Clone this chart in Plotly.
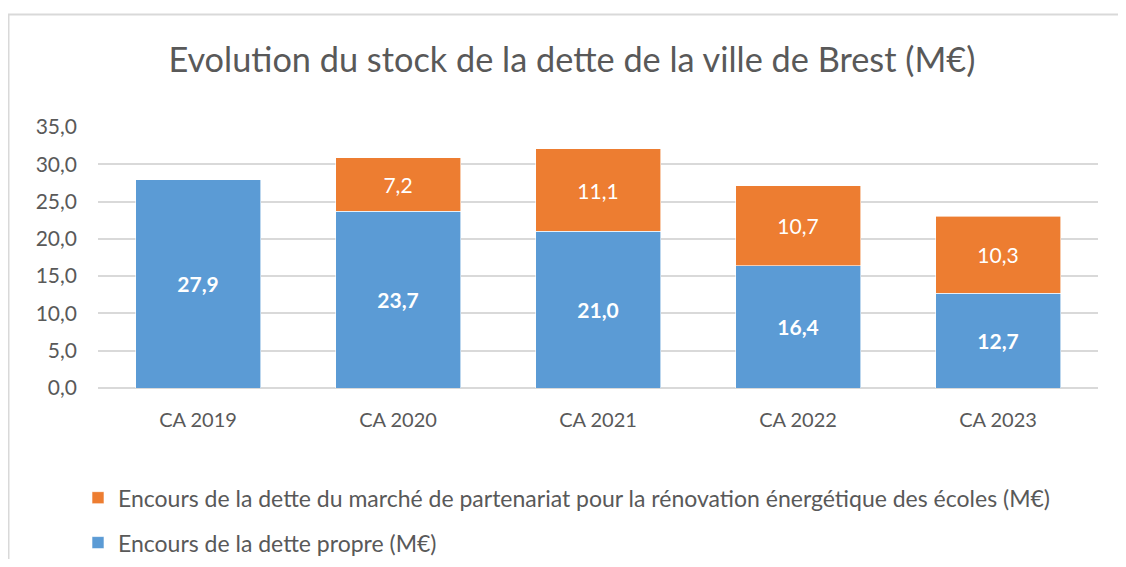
import plotly.graph_objects as go

categories = ["CA 2019", "CA 2020", "CA 2021", "CA 2022", "CA 2023"]
dette_propre = [27.9, 23.7, 21.0, 16.4, 12.7]
dette_partenariat = [None, 7.2, 11.1, 10.7, 10.3]
name_propre = "Encours de la dette propre (M€)"
name_part = "Encours de la dette du marché de partenariat pour la rénovation énergétique des écoles (M€)"
title = "Evolution du stock de la dette de la ville de Brest (M€)"

FONT = "Lato, 'Open Sans', sans-serif"
GREY = "#595959"

# page body has an 8px margin: figure is offset by (8, 8) on screen
W, H = 1110, 551
L, R, T, B = 90, 20, 119, 171
PW, PH = W - L - R, H - T - B

fig = go.Figure()
fig.add_trace(go.Bar(
    x=categories, y=dette_propre, name=name_propre,
    marker=dict(color="#5b9bd5", line=dict(color="#ffffff", width=0.6)),
    texttemplate="<b>%{y:.1f}</b>", textposition="inside", insidetextanchor="middle",
    textfont=dict(color="white", size=21, family=FONT),
    legendgroup="propre", legendrank=2,
))
fig.add_trace(go.Bar(
    x=categories, y=dette_partenariat, name=name_part,
    marker=dict(color="#ed7d31", line=dict(color="#ffffff", width=0.6)),
    texttemplate="%{y:.1f}", textposition="inside", insidetextanchor="middle",
    textfont=dict(color="white", size=21, family=FONT),
    legendgroup="part", legendrank=1,
))

fig.update_layout(
    width=W, height=H,
    barmode="stack", bargap=0.375,
    separators=", ",
    paper_bgcolor="white", plot_bgcolor="white",
    margin=dict(l=L, r=R, t=T, b=B, autoexpand=False),
    title=dict(text=title, x=0.508, xanchor="center", y=1 - 52 / H, yanchor="middle",
               font=dict(size=34.3, color=GREY, family=FONT)),
    font=dict(family=FONT, color=GREY, size=20),
    xaxis=dict(showgrid=False, showline=False, ticks="", tickfont=dict(size=20, color=GREY),
               ticklabelstandoff=18),
    yaxis=dict(range=[0, 35], dtick=5, tickformat=".1f", showgrid=True, gridcolor="#d9d9d9",
               gridwidth=1.5, zeroline=True, zerolinecolor="#d9d9d9", zerolinewidth=1.5,
               tickfont=dict(size=21, color=GREY), ticks="", ticklabelstandoff=20),
    legend=dict(orientation="v", x=-0.02, xanchor="left", y=-0.338, yanchor="top",
                traceorder="grouped", tracegroupgap=12,
                font=dict(size=23, color=GREY, family=FONT), itemwidth=30),
    shapes=[dict(type="path", xref="paper", yref="paper",
                 path="M %f %f L %f %f L %f %f" % (
                     (0.5 - L) / PW, -2.0,
                     (0.5 - L) / PW, (H - B - 6.5) / PH,
                     (W - L) / PW, (H - B - 6.5) / PH),
                 line=dict(color="#d9d9d9", width=2))],
)

fig.write_html("out.html")
